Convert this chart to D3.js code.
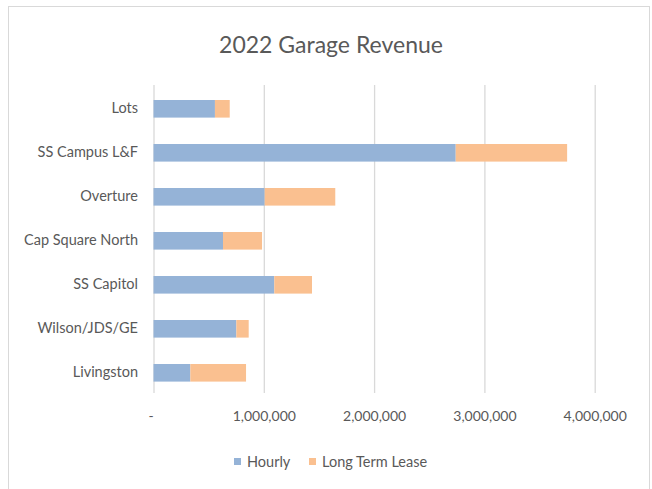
<!DOCTYPE html>
<html>
<head>
<meta charset="utf-8">
<script src="https://cdn.jsdelivr.net/npm/d3@7"></script>
<style>
  body { margin: 0; background: #fff; }
  svg text { font-family: Lato, "Open Sans", sans-serif; fill: #595959; }
</style>
</head>
<body>
<div id="canvas"></div>
<script>
// data
var categories = ['Lots', 'SS Campus L&F', 'Overture', 'Cap Square North', 'SS Capitol', 'Wilson/JDS/GE', 'Livingston'];
var hourly    = [557000, 2740000, 1008000, 630000, 1095000, 751000, 334000];
var longTerm  = [134000, 1010000, 640000, 354000, 342000, 112000, 505000];
var seriesNames = ['Hourly', 'Long Term Lease'];
var xTicks = [0, 1000000, 2000000, 3000000, 4000000];

var colors = ['#95b3d7', '#fac090'];

var W = 652, H = 489;
var m = {t: 85, r: 57, b: 96, l: 153.5};

var svg = d3.select('#canvas')
    .append('svg')
    .attr('width', W)
    .attr('height', H);

// chart border
svg.append('rect')
    .attr('x', 8.5).attr('y', 6.5)
    .attr('width', 641).attr('height', 500)
    .attr('fill', 'none')
    .attr('stroke', '#d9d9d9');

svg.append('text')
    .attr('x', 331).attr('y', 53)
    .attr('text-anchor', 'middle')
    .style('font-size', '23px')
    .text('2022 Garage Revenue');

var x = d3.scaleLinear()
    .domain([0, 4000000])
    .range([m.l, 594.7]);

// bands sit a touch lower than the gridlines, like the excel original
var y = d3.scaleBand()
    .domain(categories)
    .range([m.t + 1.8, H - m.b + 1.8])
    .paddingInner(0.6)
    .paddingOuter(0.3);

// gridlines + tick labels
var xAxis = d3.axisBottom(x)
    .tickValues(xTicks)
    .tickSize(-(H - m.b - m.t))
    .tickPadding(18)
    .tickFormat(function(d){ return d === 0 ? '-' : d3.format(',')(d); });

var gx = svg.append('g')
    .attr('transform', 'translate(0,' + (H - m.b) + ')')
    .call(xAxis);
gx.select('.domain').remove();
gx.selectAll('.tick line').attr('stroke', '#d9d9d9').attr('stroke-width', 1.3);
gx.selectAll('.tick text').style('font-size', '14px').attr('fill', '#595959');
gx.selectAll('.tick').filter(function(d){ return d === 0; })
    .select('text').attr('x', -3);

// stacked data
var stack = categories.map(function(c, i){
    return [
        {cat: c, x0: 0, x1: hourly[i], s: 0},
        {cat: c, x0: hourly[i], x1: hourly[i] + longTerm[i], s: 1}
    ];
});

svg.append('g').selectAll('g')
    .data(stack)
    .enter().append('g')
    .selectAll('rect')
    .data(function(d){ return d; })
    .enter().append('rect')
    .attr('x', function(d){ return x(d.x0); })
    .attr('y', function(d){ return y(d.cat); })
    .attr('width', function(d){ return x(d.x1) - x(d.x0); })
    .attr('height', y.bandwidth())
    .attr('fill', function(d){ return colors[d.s]; });

// category labels
var yAxis = d3.axisLeft(y).tickSize(0).tickPadding(15.5);
var gy = svg.append('g')
    .attr('transform', 'translate(' + m.l + ',0)')
    .call(yAxis);
gy.select('.domain').remove();
gy.selectAll('.tick text').style('font-size', '14.5px').attr('fill', '#595959');

// legend
var legendX = [234, 309];
var leg = svg.append('g').selectAll('g')
    .data(seriesNames)
    .enter().append('g')
    .attr('transform', function(d, i){ return 'translate(' + legendX[i] + ',458)'; });
leg.append('rect')
    .attr('width', 7).attr('height', 7)
    .attr('fill', function(d, i){ return colors[i]; });
leg.append('text')
    .attr('x', 13).attr('y', 4)
    .attr('dy', '0.35em')
    .style('font-size', '14.5px')
    .text(function(d){ return d; });
</script>
</body>
</html>
